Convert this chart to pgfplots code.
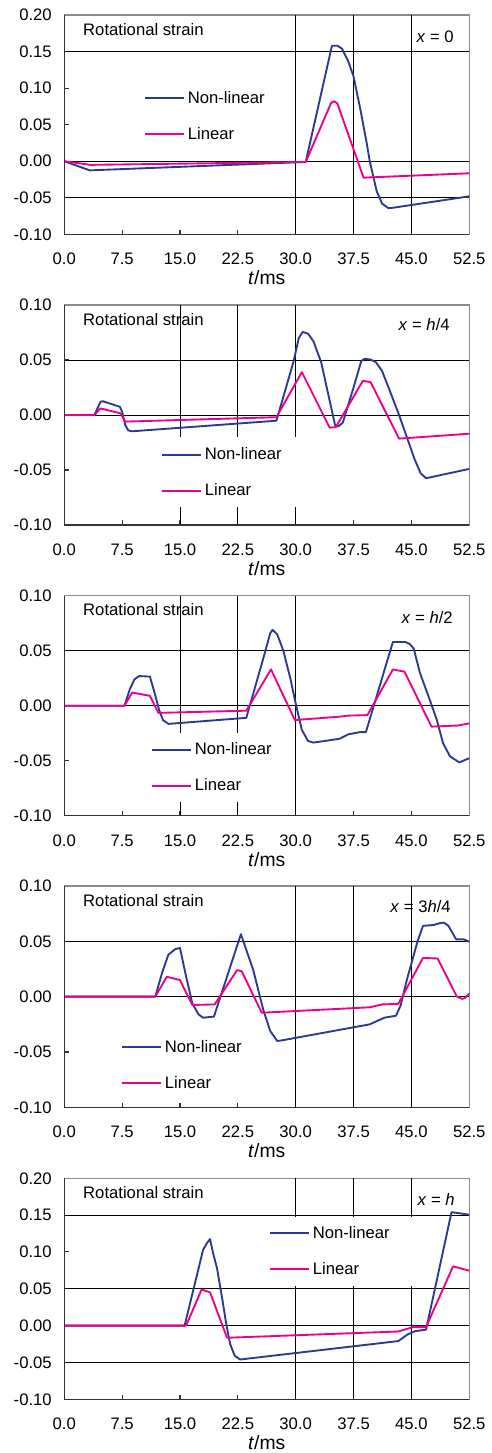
\documentclass[border=0pt]{standalone}
\usepackage{fontspec}
\setmainfont{Liberation Sans}
\usepackage{pgfplots}
\pgfplotsset{compat=1.18}
\definecolor{nlblue}{RGB}{43,57,144}
\definecolor{linpink}{RGB}{236,0,140}
\newcommand\fs{\fontsize{12.5}{15}\selectfont}

\tikzset{
  gridline/.style={black, line width=0.7pt},
  frame/.style={black!80, line width=1.1pt},
  lbl/.style={font=\fs, inner sep=0pt},
}
\pgfplotsset{
  panel/.style={
    anchor=north west, scale only axis, width=303.75pt, clip=false,
    xmin=0, xmax=52.5,
    xtick={0,7.5,15,22.5,30,37.5,45,52.5},
    xticklabels={0.0,7.5,15.0,22.5,30.0,37.5,45.0,52.5},
    tick align=inside, tick pos=left, major tick length=3.5pt,
    tick style={black!80, line width=0.8pt},
    axis line style={black!45, line width=1.1pt},
    tick label style={font=\fs},
    xticklabel style={anchor=north, inner sep=0pt, yshift=-13.9pt},
    yticklabel style={anchor=east, inner sep=0pt, xshift=-9.2pt},
    xlabel={\textit{t}/ms},
    xlabel style={font=\fontsize{14.5}{17}\selectfont, at={(axis description cs:0.5,0)},
      anchor=base, inner sep=0pt, yshift=-37.8pt},
    legend style={anchor=west, draw=none, fill=none, inner sep=0pt, outer sep=0pt,
      font=\fs, row sep=16.5pt, nodes={inner sep=0pt},
      /tikz/every odd column/.append style={column sep=2.5pt}},
    legend cell align=left,
    legend image code/.code={\draw[##1] (0pt,0pt) -- (29pt,0pt);},
  },
  tall/.style={ymin=-0.1, ymax=0.2, ytick={-0.1,-0.05,0,0.05,0.1,0.15,0.2},
    yticklabels={-0.10,-0.05,0.00,0.05,0.10,0.15,0.20}},
  short/.style={ymin=-0.1, ymax=0.1, ytick={-0.1,-0.05,0,0.05,0.1},
    yticklabels={-0.10,-0.05,0.00,0.05,0.10}},
  nl/.style={nlblue, line width=1.4pt, line join=round},
  lin/.style={linpink, line width=1.4pt, line join=round},
}

\begin{document}
\begin{tikzpicture}
\path[use as bounding box] (0,0) rectangle (369pt,-1089.75pt);

% ---- x = 0
\begin{axis}[panel, tall, at={(48.2pt,-11.25pt)}, height=164.5pt,
  legend style={at={(axis cs:10.33,0.0618)}}]
\draw[gridline] (axis cs:0,0.15) -- (axis cs:52.5,0.15);
\draw[gridline] (axis cs:0,0) -- (axis cs:52.5,0);
\draw[gridline] (axis cs:0,-0.05) -- (axis cs:52.5,-0.05);
\draw[gridline] (axis cs:30,-0.1) -- (axis cs:30,0.2);
\draw[gridline] (axis cs:37.5,-0.1) -- (axis cs:37.5,0.2);
\draw[gridline] (axis cs:45,-0.1) -- (axis cs:45,0.2);
\addplot[nl] coordinates {(0,0) (3.3,-0.0125) (31.3,-0.001) (34.7,0.158) (35.4,0.158)
  (36.0,0.154) (36.8,0.137) (37.5,0.116) (38.4,0.070) (39.2,0.025) (39.6,0.0)
  (40.5,-0.041) (41.2,-0.058) (42.0,-0.064) (42.4,-0.064) (52.5,-0.048)};
\addlegendentry{Non-linear}
\addplot[lin] coordinates {(0,0) (3.4,-0.005) (31.3,-0.001) (34.6,0.080) (35.0,0.082)
  (35.4,0.079) (38.8,-0.0225) (52.5,-0.0165)};
\addlegendentry{Linear}
\node[lbl, anchor=base west, xshift=14pt, yshift=-15pt] at (rel axis cs:0,1) {Rotational strain};
\node[lbl, anchor=base east, xshift=-11.5pt, yshift=-20.5pt] at (rel axis cs:1,1) {\textit{x} = 0};
\draw[frame] (rel axis cs:0,1) -- (rel axis cs:0,0) -- (rel axis cs:1,0);
\end{axis}

% ---- x = h/4
\begin{axis}[panel, short, at={(48.2pt,-228.75pt)}, height=165pt,
  legend style={at={(axis cs:12.53,-0.0525)}}]
\draw[gridline] (axis cs:0,0.05) -- (axis cs:52.5,0.05);
\draw[gridline] (axis cs:0,0) -- (axis cs:52.5,0);
\draw[gridline] (axis cs:15,0.1) -- (axis cs:15,-0.02);
\draw[gridline] (axis cs:15,-0.0833) -- (axis cs:15,-0.1);
\draw[gridline] (axis cs:22.5,0.1) -- (axis cs:22.5,-0.02);
\draw[gridline] (axis cs:22.5,-0.0833) -- (axis cs:22.5,-0.1);
\draw[gridline] (axis cs:30,0.1) -- (axis cs:30,-0.02);
\draw[gridline] (axis cs:30,-0.0833) -- (axis cs:30,-0.1);
\addplot[nl] coordinates {(0,0) (3.9,0) (4.7,0.012) (5.0,0.0125) (7.2,0.0075) (7.5,0.003)
  (7.9,-0.009) (8.3,-0.014) (8.8,-0.0148) (27.5,-0.0052) (29.7,0.048) (30.4,0.070)
  (30.9,0.0755) (31.6,0.074) (32.3,0.067) (33.3,0.048) (35.1,-0.009) (35.5,-0.0105)
  (36.1,-0.007) (37.5,0.025) (38.5,0.049) (38.9,0.051) (39.7,0.0505) (40.4,0.048)
  (41.2,0.040) (42.2,0.022) (43.4,0.0) (44.5,-0.022) (45.4,-0.040) (46.2,-0.053)
  (46.9,-0.0575) (52.5,-0.049)};
\addlegendentry{Non-linear}
\addplot[lin] coordinates {(0,0) (3.9,0) (4.7,0.006) (7.3,0.0015) (7.9,-0.006)
  (27.5,-0.002) (30.8,0.039) (34.4,-0.0115) (35.2,-0.011) (38.7,0.031) (39.7,0.030)
  (43.4,-0.0215) (52.5,-0.017)};
\addlegendentry{Linear}
\node[lbl, anchor=base west, xshift=14pt, yshift=-15pt] at (rel axis cs:0,1) {Rotational strain};
\node[lbl, anchor=base east, xshift=-14.5pt, yshift=-19.3pt] at (rel axis cs:1,1) {\textit{x} = \textit{h}/4};
\draw[frame] (rel axis cs:0,1) -- (rel axis cs:0,0) -- (rel axis cs:1,0);
\end{axis}

% ---- x = h/2
\begin{axis}[panel, short, at={(48.2pt,-446.8pt)}, height=165pt,
  legend style={at={(axis cs:11.24,-0.0564)}}]
\draw[gridline] (axis cs:0,0.05) -- (axis cs:52.5,0.05);
\draw[gridline] (axis cs:0,0) -- (axis cs:52.5,0);
\draw[gridline] (axis cs:15,0.1) -- (axis cs:15,-0.025);
\draw[gridline] (axis cs:15,-0.0873) -- (axis cs:15,-0.1);
\draw[gridline] (axis cs:22.5,0.1) -- (axis cs:22.5,-0.025);
\draw[gridline] (axis cs:22.5,-0.0873) -- (axis cs:22.5,-0.1);
\draw[gridline] (axis cs:30,0.1) -- (axis cs:30,-0.1);
\addplot[nl] coordinates {(0,0) (7.8,0) (8.5,0.015) (9.1,0.024) (9.7,0.027) (11.1,0.0265)
  (11.7,0.012) (12.3,-0.004) (12.8,-0.013) (13.5,-0.0165) (23.6,-0.011) (26.0,0.048)
  (26.7,0.066) (27.0,0.069) (27.6,0.065) (28.4,0.050) (29.3,0.025) (30.0,0.002)
  (30.8,-0.022) (31.6,-0.032) (32.3,-0.0335) (35.7,-0.030) (36.8,-0.026) (38.3,-0.024)
  (39.1,-0.024) (42.6,0.058) (44.2,0.058) (44.8,0.056) (45.3,0.052) (46.1,0.030)
  (47.4,0.005) (48.3,-0.013) (49.1,-0.034) (50.0,-0.046) (51.2,-0.0515) (52.5,-0.0477)};
\addlegendentry{Non-linear}
\addplot[lin] coordinates {(0,0) (7.8,0) (8.8,0.012) (11.1,0.009) (12.2,-0.0065)
  (23.6,-0.0045) (26.8,0.033) (29.9,-0.013) (35.6,-0.010) (36.8,-0.009) (39.3,-0.0085)
  (42.6,0.033) (44.1,0.031) (47.6,-0.019) (51.0,-0.018) (52.5,-0.016)};
\addlegendentry{Linear}
\node[lbl, anchor=base west, xshift=14pt, yshift=-15pt] at (rel axis cs:0,1) {Rotational strain};
\node[lbl, anchor=base east, xshift=-12.2pt, yshift=-20.5pt] at (rel axis cs:1,1) {\textit{x} = \textit{h}/2};
\draw[frame] (rel axis cs:0,1) -- (rel axis cs:0,0) -- (rel axis cs:1,0);
\end{axis}

% ---- x = 3h/4
\begin{axis}[panel, short, at={(48.2pt,-664.5pt)}, height=166pt,
  legend style={at={(axis cs:7.35,-0.062)}}]
\draw[gridline] (axis cs:0,0.05) -- (axis cs:52.5,0.05);
\draw[gridline] (axis cs:0,0) -- (axis cs:52.5,0);
\draw[gridline] (axis cs:30,-0.1) -- (axis cs:30,0.1);
\draw[gridline] (axis cs:37.5,-0.1) -- (axis cs:37.5,0.1);
\draw[gridline] (axis cs:45,-0.1) -- (axis cs:45,0.1);
\addplot[nl] coordinates {(0,0) (11.8,0) (12.7,0.022) (13.5,0.038) (14.4,0.043) (15.0,0.044)
  (15.8,0.018) (16.6,-0.006) (17.4,-0.016) (18.0,-0.019) (19.4,-0.018) (22.9,0.0565)
  (24.5,0.024) (25.8,-0.012) (26.7,-0.031) (27.6,-0.040) (28.2,-0.0395) (39.6,-0.025)
  (41.5,-0.019) (43.0,-0.0172) (43.6,-0.008) (44.4,0.015) (45.8,0.050) (46.5,0.064)
  (47.9,0.0648) (48.7,0.0665) (49.2,0.0669) (49.8,0.064) (50.8,0.0518) (51.8,0.0518)
  (52.5,0.0497)};
\addlegendentry{Non-linear}
\addplot[lin] coordinates {(0,0) (11.8,0) (13.3,0.018) (15.0,0.015) (16.6,-0.0075)
  (19.5,-0.007) (22.4,0.024) (23.0,0.023) (25.6,-0.0145) (39.6,-0.0096) (41.2,-0.007)
  (43.3,-0.0065) (46.5,0.035) (48.4,0.0345) (50.9,0.0) (51.6,-0.002) (52.0,-0.001)
  (52.5,0.003)};
\addlegendentry{Linear}
\node[lbl, anchor=base west, xshift=14pt, yshift=-15pt] at (rel axis cs:0,1) {Rotational strain};
\node[lbl, anchor=base east, xshift=-13.7pt, yshift=-19.5pt] at (rel axis cs:1,1) {\textit{x} = 3\textit{h}/4};
\draw[frame] (rel axis cs:0,1) -- (rel axis cs:0,0) -- (rel axis cs:1,0);
\end{axis}

% ---- x = h
\begin{axis}[panel, tall, at={(48.2pt,-883.7pt)}, height=165.75pt,
  legend style={at={(axis cs:26.53,0.1009)}}]
\draw[gridline] (axis cs:0,0.15) -- (axis cs:52.5,0.15);
\draw[gridline] (axis cs:0,0.05) -- (axis cs:52.5,0.05);
\draw[gridline] (axis cs:0,0) -- (axis cs:52.5,0);
\draw[gridline] (axis cs:0,-0.05) -- (axis cs:52.5,-0.05);
\draw[gridline] (axis cs:30,0.2) -- (axis cs:30,0.148);
\draw[gridline] (axis cs:30,0.054) -- (axis cs:30,-0.1);
\draw[gridline] (axis cs:37.5,0.2) -- (axis cs:37.5,0.148);
\draw[gridline] (axis cs:37.5,0.054) -- (axis cs:37.5,-0.1);
\draw[gridline] (axis cs:45,0.2) -- (axis cs:45,0.148);
\draw[gridline] (axis cs:45,0.054) -- (axis cs:45,-0.1);
\addplot[nl] coordinates {(0,0) (15.6,0) (17.0,0.06) (18.0,0.103) (18.5,0.112) (18.9,0.1175)
  (19.3,0.098) (19.8,0.078) (20.5,0.035) (21.0,0.002) (21.5,-0.025) (22.1,-0.041)
  (22.8,-0.046) (43.3,-0.021) (44.5,-0.012) (45.5,-0.0075) (46.9,-0.0055) (50.2,0.154)
  (50.9,0.153) (52.5,0.1505)};
\addlegendentry{Non-linear}
\addplot[lin] coordinates {(0,0) (15.8,0) (17.8,0.049) (18.9,0.045) (21.1,-0.0165)
  (43.3,-0.008) (45.2,-0.002) (46.9,-0.002) (50.4,0.0805) (52.5,0.0745)};
\addlegendentry{Linear}
\node[lbl, anchor=base west, xshift=14pt, yshift=-15pt] at (rel axis cs:0,1) {Rotational strain};
\node[lbl, anchor=base east, xshift=-10.7pt, yshift=-20.5pt] at (rel axis cs:1,1) {\textit{x} = \textit{h}};
\draw[frame] (rel axis cs:0,1) -- (rel axis cs:0,0) -- (rel axis cs:1,0);
\end{axis}
\end{tikzpicture}
\end{document}
